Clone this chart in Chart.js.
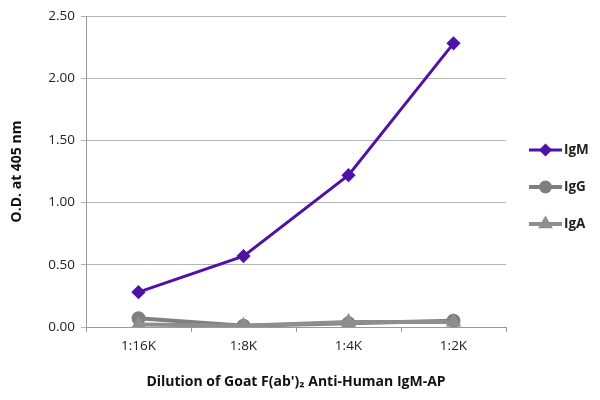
<!DOCTYPE html>
<html>
<head>
<meta charset="utf-8">
<script src="https://cdn.jsdelivr.net/npm/chart.js@4"></script>
<style>
  html, body { margin: 0; padding: 0; background: #fff; }
  #wrap { width: 600px; height: 400px; }
</style>
</head>
<body>
<div id="wrap"><canvas id="chart"></canvas></div>
<script>
// data
let dilutions = ["1:16K", "1:8K", "1:4K", "1:2K"];
let igm = [0.28, 0.57, 1.22, 2.28];
let igg = [0.07, 0.01, 0.03, 0.05];
let iga = [0.02, 0.01, 0.04, 0.04];
let seriesNames = ["IgM", "IgG", "IgA"];

let purple = "#4f12a6";
let grayG = "#7f7f7f";
let grayA = "#8e8e8e";
let font = "'Open Sans', 'DejaVu Sans', sans-serif";

//-----------------------------------------------
// legend on the right: line through the marker, like the original
let sideLegend = {
  id: "sideLegend",
  afterDraw(chart) {
    let ctx = chart.ctx;
    let rows = [150, 187, 224];
    chart.data.datasets.forEach((ds) => {
      let y = rows[seriesNames.indexOf(ds.label)];
      ctx.save();
      ctx.strokeStyle = ds.borderColor;
      ctx.lineWidth = ds.borderWidth;
      ctx.beginPath();
      ctx.moveTo(529, y);
      ctx.lineTo(562, y);
      ctx.stroke();
      Chart.helpers.drawPoint(ctx, {
        pointStyle: ds.pointStyle,
        radius: ds.pointRadius - 0.5,
        borderWidth: 1
      }, 545.5, y);
      ctx.fillStyle = ds.borderColor;
      ctx.fill();
      ctx.fillStyle = "#222";
      ctx.font = "bold 13.5px " + font;
      ctx.textBaseline = "middle";
      ctx.fillText(ds.label, 564, y);
      ctx.restore();
    });
  }
};

new Chart(document.getElementById("chart"), {
  type: "line",
  data: {
    labels: dilutions,
    datasets: [
      {
        label: seriesNames[2], data: iga,
        borderColor: grayA, backgroundColor: grayA,
        borderWidth: 4, pointStyle: "triangle", pointRadius: 5
      },
      {
        label: seriesNames[1], data: igg,
        borderColor: grayG, backgroundColor: grayG,
        borderWidth: 4, pointStyle: "circle", pointRadius: 5
      },
      {
        label: seriesNames[0], data: igm,
        borderColor: purple, backgroundColor: purple,
        borderWidth: 3, pointStyle: "rectRot", pointRadius: 5
      }
    ]
  },
  options: {
    responsive: true,
    maintainAspectRatio: false,
    animation: false,
    devicePixelRatio: 1,
    layout: { padding: { top: 16, right: 94, left: 0, bottom: 0 } },
    plugins: {
      legend: { display: false },
      tooltip: { enabled: false }
    },
    elements: { line: { tension: 0 } },
    scales: {
      x: {
        offset: true,
        afterFit: (s) => { s.height = 73; },
        grid: { offset: true, drawOnChartArea: false, drawTicks: true, tickLength: 5, color: "#999" },
        border: { color: "#999" },
        ticks: { color: "#222", padding: 6, font: { family: font, size: 13.5 } },
        title: {
          display: true, text: "Dilution of Goat F(ab')\u2082 Anti-Human IgM-AP",
          color: "#111", font: { family: font, size: 14, weight: "bold" }, padding: { top: 6, bottom: 10 }
        }
      },
      y: {
        min: 0, max: 2.5,
        afterFit: (s) => { s.width = 86; },
        grid: { color: "#b5b5b5", tickLength: 5 },
        border: { color: "#999" },
        ticks: {
          stepSize: 0.5, color: "#222", padding: 6,
          font: { family: font, size: 13.5 },
          callback: (v) => v.toFixed(2)
        },
        title: {
          display: true, text: "O.D. at 405 nm",
          color: "#111", font: { family: font, size: 14, weight: "bold" }, padding: { top: 9, bottom: 4 }
        }
      }
    }
  },
  plugins: [sideLegend]
});
</script>
</body>
</html>
